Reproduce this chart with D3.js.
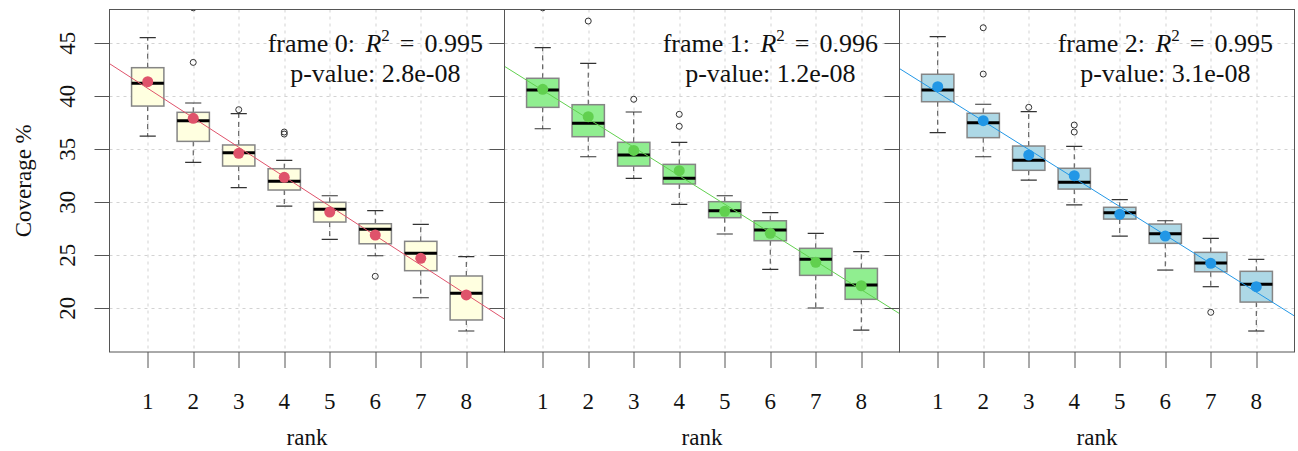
<!DOCTYPE html>
<html>
<head>
<meta charset="utf-8">
<script src="https://cdn.jsdelivr.net/npm/d3@7"></script>
<style>
  html, body { margin: 0; padding: 0; background: #fff; }
  svg { display: block; }
</style>
</head>
<body>
<svg id="chart" width="1298" height="451"></svg>
<script>
// ---------- data ----------
const ranks = [1, 2, 3, 4, 5, 6, 7, 8];
const frames = ["frame 0", "frame 1", "frame 2"];
const r2Labels = ["0.995", "0.996", "0.995"];
const pLabels = ["2.8e-08", "1.2e-08", "3.1e-08"];
const yTicks = [20, 25, 30, 35, 40, 45];

const whiskerLow = [
  [36.25, 33.77, 31.38, 29.65, 26.51, 24.96, 21.00, 17.86],
  [36.94, 34.30, 32.26, 29.81, 27.01, 23.68, 20.03, 17.95],
  [36.57, 34.30, 32.10, 29.75, 26.82, 23.61, 22.04, 17.86]
];
const q1 = [
  [39.08, 35.75, 33.42, 31.16, 28.14, 26.09, 23.55, 18.90],
  [38.96, 36.19, 33.42, 31.73, 28.55, 26.38, 23.11, 20.85],
  [39.49, 36.10, 33.02, 31.25, 28.42, 26.13, 23.45, 20.59]
];
const medians = [
  [41.23, 37.70, 34.68, 31.98, 29.34, 27.45, 25.19, 21.42],
  [40.59, 37.45, 34.46, 32.26, 29.21, 27.39, 24.62, 22.20],
  [40.59, 37.51, 33.96, 31.89, 29.02, 27.04, 24.27, 22.26]
];
const q3 = [
  [42.70, 38.49, 35.41, 33.17, 30.00, 27.98, 26.32, 23.05],
  [41.70, 39.21, 35.66, 33.58, 30.06, 28.26, 25.66, 23.77],
  [42.08, 38.40, 35.31, 33.21, 29.53, 27.95, 25.28, 23.49]
];
const whiskerHigh = [
  [45.53, 39.37, 38.36, 33.96, 30.62, 29.21, 27.92, 24.87],
  [44.59, 43.11, 38.52, 35.66, 30.62, 29.02, 27.08, 25.34],
  [45.63, 39.25, 38.55, 35.28, 30.25, 28.26, 26.60, 24.62]
];
const means = [
  [41.38, 37.92, 34.62, 32.36, 29.08, 26.91, 24.72, 21.26],
  [40.66, 38.08, 34.90, 32.98, 29.15, 27.08, 24.34, 22.13],
  [40.91, 37.70, 34.46, 32.51, 28.87, 26.82, 24.25, 22.04]
];
// outliers: [rank, value]
const outliers = [
  [[2, 48.35], [2, 43.20], [3, 38.74], [4, 36.63], [4, 36.44], [6, 23.02]],
  [[1, 48.35], [2, 47.10], [3, 39.72], [4, 38.30], [4, 37.17]],
  [[2, 46.47], [2, 42.10], [3, 38.96], [4, 37.29], [4, 36.63], [7, 19.62]]
];
const boxFills = ["#FFFFE0", "#90EE90", "#ADD8E6"];
const pointColors = ["#DF536B", "#61D04F", "#2297E6"];

// ---------- pick an installed serif font ----------
function pickFont(cands) {
  const ctx = document.createElement("canvas").getContext("2d");
  const s = "frame 0: R = 0.995 p-value mmmwwwiii";
  ctx.font = "40px monospace"; const wMono = ctx.measureText(s).width;
  for (const c of cands) {
    ctx.font = `40px '${c}', monospace`; const w1 = ctx.measureText(s).width;
    ctx.font = `40px '${c}', sans-serif`; const w2 = ctx.measureText(s).width;
    if (w1 !== wMono && Math.abs(w1 - w2) < 0.01) return c;
  }
  return null;
}
const chosen = pickFont(["Liberation Serif", "DejaVu Serif", "Noto Serif", "Tinos", "Times New Roman", "FreeSerif", "Nimbus Roman"]);
const FONT = chosen ? `'${chosen}', serif` : "'Liberation Sans', sans-serif";

// ---------- layout ----------
const svg = d3.select("#chart");
const panelLefts = [109.5, 504.5, 899.5];
const panelW = 395;
const plotTop = 9.5, plotBottom = 352;

const x = d3.scaleLinear().domain([0.16, 8.84]).range([0, panelW]);
const y = d3.scaleLinear().domain([15.88, 48.19]).range([plotBottom, plotTop]);
const boxHalf = (x(1.355) - x(1));
const capHalf = boxHalf * 0.5;

function txt(sel) { return sel.attr("font-family", FONT).attr("fill", "#111"); }

// y-axis title
txt(svg.append("text"))
  .attr("transform", `translate(31,${(plotTop + plotBottom) / 2}) rotate(-90)`)
  .attr("text-anchor", "middle")
  .attr("font-size", 23)
  .text("Coverage %");

frames.forEach((fr, fi) => {
  const L = panelLefts[fi];
  const g = svg.append("g").attr("transform", `translate(${L},0)`);

  const clipId = "clip" + fi;
  g.append("clipPath").attr("id", clipId)
    .append("rect").attr("x", 0).attr("y", plotTop).attr("width", panelW).attr("height", plotBottom - plotTop);

  // grid
  const grid = g.append("g");
  grid.selectAll("line.h").data(yTicks).join("line")
    .attr("x1", 0).attr("x2", panelW)
    .attr("y1", d => Math.round(y(d)) + 0.5).attr("y2", d => Math.round(y(d)) + 0.5)
    .attr("stroke", "#d3d3d3").attr("stroke-width", 1).attr("stroke-dasharray", "3,4");
  grid.selectAll("line.v").data(ranks).join("line")
    .attr("x1", d => Math.round(x(d)) + 0.5).attr("x2", d => Math.round(x(d)) + 0.5)
    .attr("y1", plotTop).attr("y2", plotBottom)
    .attr("stroke", "#d3d3d3").attr("stroke-width", 1).attr("stroke-dasharray", "3,4");

  const plot = g.append("g").attr("clip-path", `url(#${clipId})`);

  ranks.forEach((r, i) => {
    const cx = x(r);
    plot.append("line")
      .attr("x1", cx).attr("x2", cx)
      .attr("y1", y(q3[fi][i])).attr("y2", y(whiskerHigh[fi][i]))
      .attr("stroke", "#444").attr("stroke-width", 1).attr("stroke-dasharray", "5,4");
    plot.append("line")
      .attr("x1", cx).attr("x2", cx)
      .attr("y1", y(q1[fi][i])).attr("y2", y(whiskerLow[fi][i]))
      .attr("stroke", "#444").attr("stroke-width", 1).attr("stroke-dasharray", "5,4");
    [whiskerHigh[fi][i], whiskerLow[fi][i]].forEach(v => {
      plot.append("line")
        .attr("x1", cx - capHalf).attr("x2", cx + capHalf)
        .attr("y1", y(v)).attr("y2", y(v))
        .attr("stroke", "#333").attr("stroke-width", 1.2);
    });
    plot.append("rect")
      .attr("x", cx - boxHalf).attr("width", 2 * boxHalf)
      .attr("y", y(q3[fi][i])).attr("height", y(q1[fi][i]) - y(q3[fi][i]))
      .attr("fill", boxFills[fi]).attr("stroke", "#858585").attr("stroke-width", 1.5);
    plot.append("line")
      .attr("x1", cx - boxHalf).attr("x2", cx + boxHalf)
      .attr("y1", y(medians[fi][i])).attr("y2", y(medians[fi][i]))
      .attr("stroke", "#000").attr("stroke-width", 3);
  });

  // outliers
  plot.selectAll("circle.out").data(outliers[fi]).join("circle")
    .attr("cx", d => x(d[0])).attr("cy", d => y(d[1])).attr("r", 3)
    .attr("fill", "none").attr("stroke", "#333").attr("stroke-width", 1);

  // regression line through means
  const mx = d3.mean(ranks), my = d3.mean(means[fi]);
  let sxy = 0, sxx = 0;
  ranks.forEach((r, i) => { sxy += (r - mx) * (means[fi][i] - my); sxx += (r - mx) * (r - mx); });
  const slope = sxy / sxx, icpt = my - slope * mx;
  const xd = x.domain();
  plot.append("line")
    .attr("x1", x(xd[0])).attr("x2", x(xd[1]))
    .attr("y1", y(icpt + slope * xd[0])).attr("y2", y(icpt + slope * xd[1]))
    .attr("stroke", pointColors[fi]).attr("stroke-width", 1);

  // means
  plot.selectAll("circle.mean").data(means[fi]).join("circle")
    .attr("cx", (d, i) => x(ranks[i])).attr("cy", d => y(d)).attr("r", 5.5)
    .attr("fill", pointColors[fi]);

  // panel border
  g.append("rect").attr("x", 0).attr("y", plotTop).attr("width", panelW).attr("height", plotBottom - plotTop)
    .attr("fill", "none").attr("stroke", "#555").attr("stroke-width", 1);

  // y axis ticks (left, outward)
  g.selectAll("line.yt").data(yTicks).join("line")
    .attr("x1", -15).attr("x2", 0)
    .attr("y1", d => Math.round(y(d)) + 0.5).attr("y2", d => Math.round(y(d)) + 0.5)
    .attr("stroke", "#555").attr("stroke-width", 1);
  if (fi === 0) {
    txt(g.selectAll("text.yl").data(yTicks).join("text"))
      .attr("transform", d => `translate(${75 - L},${y(d)}) rotate(-90)`)
      .attr("text-anchor", "middle")
      .attr("font-size", 23)
      .text(d => d);
  }

  // x axis ticks & labels
  g.selectAll("line.xt").data(ranks).join("line")
    .attr("x1", d => Math.round(x(d)) + 0.5).attr("x2", d => Math.round(x(d)) + 0.5)
    .attr("y1", plotBottom).attr("y2", plotBottom + 16)
    .attr("stroke", "#555").attr("stroke-width", 1);
  txt(g.selectAll("text.xl").data(ranks).join("text"))
    .attr("x", d => x(d)).attr("y", 409)
    .attr("text-anchor", "middle")
    .attr("font-size", 23)
    .text(d => d);
  txt(g.append("text"))
    .attr("x", panelW / 2).attr("y", 445)
    .attr("text-anchor", "middle")
    .attr("font-size", 23)
    .text("rank");

  // annotation
  const ax = panelW * 0.673;
  const t1 = txt(g.append("text")).attr("x", ax).attr("y", 52).attr("text-anchor", "middle")
    .attr("font-size", 26);
  t1.append("tspan").text(fr + ": ");
  t1.append("tspan").attr("dx", 4).attr("font-style", "italic").text("R");
  t1.append("tspan").attr("dy", -11).attr("font-size", 17).text("2");
  t1.append("tspan").attr("dy", 11).attr("dx", 10).text("=");
  t1.append("tspan").attr("dx", 10).text(r2Labels[fi]);
  txt(g.append("text")).attr("x", ax).attr("y", 82).attr("text-anchor", "middle")
    .attr("font-size", 26)
    .text("p-value:  " + pLabels[fi]);
});
</script>
</body>
</html>
